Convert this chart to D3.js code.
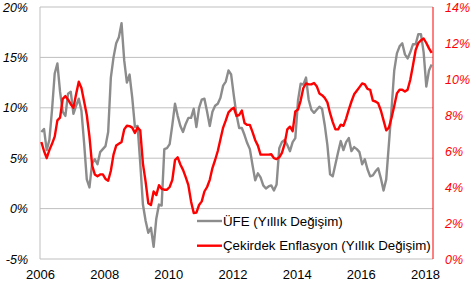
<!DOCTYPE html>
<html>
<head>
<meta charset="utf-8">
<script src="https://cdn.jsdelivr.net/npm/d3@7"></script>
<style>
  body { margin: 0; background: #fff; }
  svg { font-family: "Liberation Sans", Arial, sans-serif; }
</style>
</head>
<body>
<svg id="chart" width="472" height="284"></svg>
<script>
// monthly values, Jan 2006 - Mar 2018
const years = ["2006", "2008", "2010", "2012", "2014", "2016", "2018"];
const leftTicks = [-5, 0, 5, 10, 15, 20];
const rightTicks = [0, 2, 4, 6, 8, 10, 12, 14];
const seriesNames = ["ÜFE (Yıllık Değişim)", "Çekirdek Enflasyon (Yıllık Değişim)"];

const ufe = [
    7.6, 7.9, 5.8, 6.8, 9.8, 13.4, 14.4, 11.6, 9.6, 9.2, 11.4, 11.6,
    9.4, 10.2, 10.9, 9.7, 6.5, 2.9, 2.1, 4.5, 4.9, 4.4, 5.6, 5.9,
    6.2, 7.6, 13.0, 15.0, 16.4, 17.0, 18.4, 14.7, 12.5, 13.3, 11.0, 8.1,
    8.2, 4.5, 0.4, -1.2, -2.4, -1.9, -3.8, -1.0, 0.4, 0.3, 5.9, 6.0,
    6.4, 8.3, 10.4, 9.2, 8.2, 7.6, 8.4, 9.0, 9.0, 9.9, 8.1, 10.0,
    10.8, 10.9, 9.6, 8.2, 9.6, 10.2, 10.4, 11.0, 12.2, 12.6, 13.7, 13.3,
    11.2, 9.3, 8.0, 8.0, 7.3, 6.5, 5.9, 4.3, 2.8, 3.5, 3.1, 2.3,
    2.0, 2.2, 2.3, 1.8, 2.4, 6.0, 6.6, 6.8, 6.3, 5.7, 6.6, 7.0,
    10.7, 12.4, 12.3, 13.0, 10.8, 9.8, 9.5, 9.8, 10.1, 9.9, 8.3, 6.3,
    3.4, 3.2, 4.4, 5.6, 6.7, 5.8, 6.6, 7.0, 5.7, 6.1, 5.9, 5.6,
    4.4, 4.9, 3.9, 3.2, 3.3, 3.7, 4.0, 3.0, 1.8, 2.9, 6.4, 9.9,
    13.7, 15.4, 16.1, 16.4, 15.3, 14.9, 15.5, 16.3, 16.3, 17.3, 17.3, 15.5,
    12.1, 13.7, 14.3
];

const core = [
    6.5, 6.0, 5.6, 6.05, 6.4, 6.8, 7.7, 7.85, 8.9, 9.05, 8.85, 8.6,
    8.4, 9.15, 9.85, 9.5, 8.75, 8.0, 6.8, 5.2, 4.7, 4.6, 4.7, 4.7,
    4.45, 4.35, 4.9, 5.8, 6.3, 6.4, 6.5, 7.2, 7.4, 7.38, 7.3, 7.0,
    7.3, 7.15, 5.3, 4.3, 3.1, 3.0, 3.75, 3.55, 4.1, 3.9, 3.85, 3.85,
    4.0, 4.4, 5.5, 5.65, 5.25, 4.95, 4.55, 4.1, 3.2, 2.55, 2.58, 3.0,
    3.2, 3.75, 4.0, 4.4, 5.05, 5.5, 6.0, 6.65, 7.3, 7.7, 8.15, 8.3,
    8.4, 7.95, 8.0, 8.25, 7.55, 7.45, 7.45, 7.05, 6.6, 6.3, 5.8, 5.8,
    5.8, 5.8, 5.82, 5.6, 5.55, 5.65, 5.9, 6.4, 7.2, 7.35, 7.1, 8.2,
    8.3, 8.8, 9.5, 9.75, 9.7, 9.7, 9.78, 9.6, 9.2, 9.1, 8.95, 8.7,
    8.1, 7.6, 7.2, 7.2, 7.46, 7.4, 7.8, 8.3, 8.75, 9.15, 9.35, 9.55,
    9.75, 9.7, 9.45, 9.4, 8.8, 8.75, 8.65, 8.25, 7.7, 7.15, 7.3, 7.85,
    8.5, 9.2, 9.4, 9.4, 9.3, 9.4, 9.96, 10.75, 11.6, 12.0, 12.15, 12.25,
    12.0, 11.7, 11.45
];

const svg = d3.select("#chart");
const plot = { left: 40, right: 433, top: 7, bottom: 259 };

// one category per month, points sit in the middle of their month
const x = d3.scaleLinear().domain([0, ufe.length]).range([plot.left, plot.right]);
const yL = d3.scaleLinear().domain([-5, 20]).range([plot.bottom, plot.top]);
const yR = d3.scaleLinear().domain([0, 14]).range([plot.bottom, plot.top]);

// gridlines
svg.append("g")
    .selectAll("line")
    .data(leftTicks.slice(1))
    .enter().append("line")
    .attr("x1", plot.left).attr("x2", plot.right)
    .attr("y1", d => yL(d)).attr("y2", d => yL(d))
    .attr("stroke", "#bfbfbf").attr("stroke-width", 1);

// axis lines
svg.append("line")
    .attr("x1", plot.left).attr("x2", plot.right)
    .attr("y1", plot.bottom).attr("y2", plot.bottom)
    .attr("stroke", "#bfbfbf");
svg.append("line")
    .attr("x1", plot.left).attr("x2", plot.left)
    .attr("y1", plot.top).attr("y2", plot.bottom)
    .attr("stroke", "#bfbfbf");
svg.append("line")
    .attr("x1", plot.right).attr("x2", plot.right)
    .attr("y1", plot.top).attr("y2", plot.bottom)
    .attr("stroke", "#ff0000");

// tick labels
const leftAxis = svg.append("g")
    .attr("transform", `translate(${plot.left},0)`)
    .call(d3.axisLeft(yL).tickValues(leftTicks).tickSize(0).tickPadding(12).tickFormat(d => d + "%"));
leftAxis.select(".domain").remove();
leftAxis.selectAll("text")
    .attr("font-size", 12.5).attr("font-style", "italic").attr("fill", "#000")
    .attr("font-family", "Liberation Sans, Arial, sans-serif");

const rightAxis = svg.append("g")
    .attr("transform", `translate(${plot.right},0)`)
    .call(d3.axisRight(yR).tickValues(rightTicks).tickSize(0).tickPadding(12).tickFormat(d => d + "%"));
rightAxis.select(".domain").remove();
rightAxis.selectAll("text")
    .attr("font-size", 12.5).attr("font-style", "italic").attr("fill", "#ff0000")
    .attr("font-family", "Liberation Sans, Arial, sans-serif");

const bottomAxis = svg.append("g")
    .attr("transform", `translate(0,${plot.bottom})`)
    .call(d3.axisBottom(x).tickValues(years.map((d, i) => i * 24)).tickSize(0).tickPadding(11)
        .tickFormat((d, i) => years[i]));
bottomAxis.select(".domain").remove();
bottomAxis.selectAll("text")
    .attr("font-size", 13).attr("fill", "#000")
    .attr("font-family", "Liberation Sans, Arial, sans-serif");

// series
const lineL = d3.line().x((d, i) => x(i + 0.5)).y(d => yL(d));
const lineR = d3.line().x((d, i) => x(i + 0.5)).y(d => yR(d));

svg.append("path")
    .datum(ufe)
    .attr("d", lineL)
    .attr("fill", "none")
    .attr("stroke", "#8c8c8c")
    .attr("stroke-width", 2.4)
    .attr("stroke-linejoin", "round");

svg.append("path")
    .datum(core)
    .attr("d", lineR)
    .attr("fill", "none")
    .attr("stroke", "#ff0000")
    .attr("stroke-width", 2.4)
    .attr("stroke-linejoin", "round");

// legend
const legend = svg.append("g");
const legendRows = [
    { name: seriesNames[0], color: "#8c8c8c", y: 221 },
    { name: seriesNames[1], color: "#ff0000", y: 245.7 }
];
legendRows.forEach(function(r) {
    legend.append("line")
        .attr("x1", 197).attr("x2", 222)
        .attr("y1", r.y).attr("y2", r.y)
        .attr("stroke", r.color).attr("stroke-width", 2.4);
    legend.append("text")
        .attr("x", 223).attr("y", r.y + 4.7)
        .attr("font-size", 13.3)
        .attr("fill", "#000")
        .text(r.name);
});
</script>
</body>
</html>
